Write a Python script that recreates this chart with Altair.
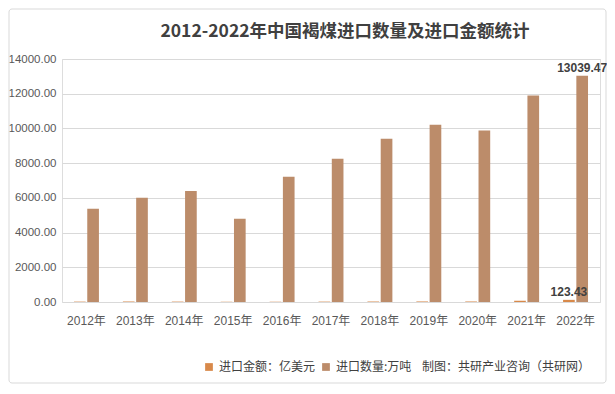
import altair as alt
import pandas as pd

years = ["2012年", "2013年", "2014年", "2015年", "2016年", "2017年", "2018年", "2019年", "2020年", "2021年", "2022年"]
amount = [22, 24, 23, 14, 15, 22, 28, 31, 30, 72, 123.43]          # 进口金额：亿美元
quantity = [5370, 6000, 6400, 4790, 7210, 8250, 9400, 10210, 9880, 11890, 13039.47]  # 进口数量:万吨
series = ["进口金额：亿美元", "进口数量:万吨"]
colors = ["#D8894A", "#BC8C6A"]
label_years = ["2022年"]
title_text = "2012-2022年中国褐煤进口数量及进口金额统计"
credit_text = "制图：共研产业咨询（共研网）"

rows = []
for y, a, q in zip(years, amount, quantity):
    rows.append({"year": y, "series": series[0], "value": a,
                 "label": f"{a:.2f}" if y in label_years else ""})
    rows.append({"year": y, "series": series[1], "value": q,
                 "label": f"{q:.2f}" if y in label_years else ""})
df = pd.DataFrame(rows)

CJK = "Noto Sans CJK SC"
NUM = "Liberation Sans, Noto Sans CJK SC"

x = alt.X("year:N", sort=years, title=None,
          scale=alt.Scale(paddingInner=0.49, paddingOuter=0.245),
          axis=alt.Axis(labelAngle=0, labelFontSize=12, labelColor="#595959",
                        labelPadding=13, ticks=False, domain=False, labelFont=NUM))
xo = alt.XOffset("series:N", sort=series, scale=alt.Scale(paddingInner=0.12))
y = alt.Y("value:Q", title=None,
          scale=alt.Scale(domain=[0, 14000], nice=False),
          axis=alt.Axis(values=[0, 2000, 4000, 6000, 8000, 10000, 12000, 14000],
                        format=".2f", labelFontSize=11.5, labelColor="#595959",
                        labelPadding=6, ticks=False, domain=False,
                        gridColor="#D9D9D9", labelFont=NUM))

base = alt.Chart(df)

bars = base.mark_bar().encode(
    x=x, xOffset=xo, y=y,
    color=alt.Color("series:N", sort=series,
                    scale=alt.Scale(domain=series, range=colors),
                    legend=alt.Legend(title=None, orient="none", direction="horizontal",
                                      legendX=141, legendY=302, symbolType="square",
                                      symbolSize=60, labelFontSize=12, labelColor="#404040",
                                      labelFont=CJK, columnPadding=4, symbolStrokeWidth=0)),
)

labels = base.mark_text(dy=-8, fontSize=12, fontWeight="bold", color="#404040", font=NUM).encode(
    x=x, xOffset=xo, y=y, text="label:N"
).transform_filter(alt.datum.label != "")

credit = alt.Chart(pd.DataFrame({"t": [credit_text]})).mark_text(
    align="left", baseline="middle", fontSize=12, color="#404040", font=CJK
).encode(x=alt.value(360), y=alt.value(308), text="t:N")

title = alt.Chart(pd.DataFrame({"t": [title_text]})).mark_text(
    align="center", baseline="middle", fontSize=17.5, fontWeight="bold", color="#404040", font=CJK
).encode(x=alt.value(283), y=alt.value(-27), text="t:N")

border = alt.Chart(pd.DataFrame({"a": [0]})).mark_rect(
    fill="transparent", stroke="#D9D9D9", strokeWidth=1, cornerRadius=3
).encode(x=alt.value(-53), x2=alt.value(544), y=alt.value(-50), y2=alt.value(324))

chart = alt.layer(border, bars, labels, credit, title).properties(
    width=538, height=243,
    autosize=alt.AutoSizeParams(type="none"),
    padding={"left": 54, "top": 51, "right": 7, "bottom": 82},
).configure_view(stroke=None).configure(background="white")

chart.save("out.html", embed_options={"renderer": "svg", "actions": False})
